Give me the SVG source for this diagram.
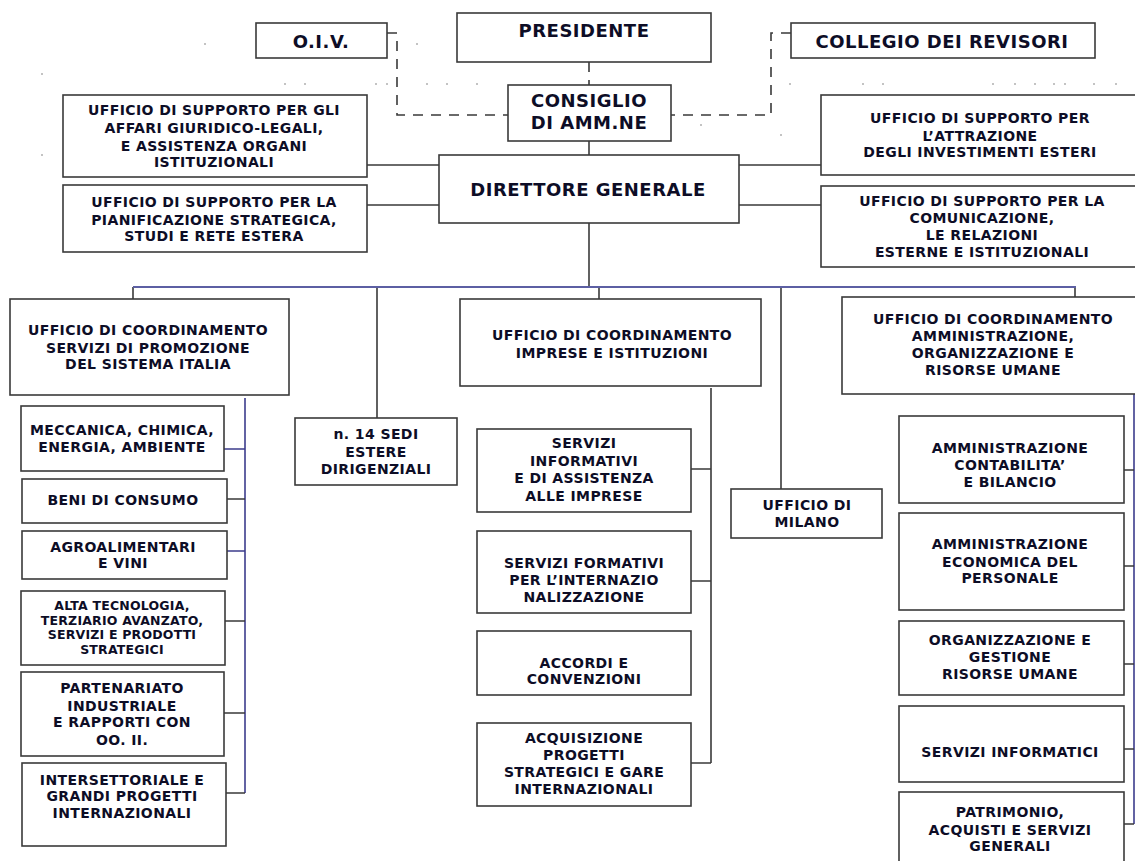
<svg xmlns="http://www.w3.org/2000/svg" width="1135" height="861" viewBox="0 0 1135 861">
<style>
.box{fill:#ffffff;stroke:#3a3a3a;stroke-width:1.6}
.t{font-family:"DejaVu Sans","Liberation Sans",sans-serif;font-weight:bold;font-size:14px;letter-spacing:0.4px;fill:#0d0d26;text-anchor:middle}
.big{font-size:18px;letter-spacing:0.5px}
.sm{font-size:12.5px;letter-spacing:0.2px}
.ln{fill:none;stroke:#3a3a3a;stroke-width:1.6}
.dash{fill:none;stroke:#3a3a3a;stroke-width:1.6;stroke-dasharray:10 8}
.bus{fill:none;stroke:#5c5fa3;stroke-width:2}
.navy{fill:none;stroke:#3c3c8c;stroke-width:1.6}
.dot{fill:#777}
</style>
<rect width="1135" height="861" fill="#ffffff"/>
<g id="specks">
<circle class="dot" cx="205" cy="44" r="0.8"/><circle class="dot" cx="42" cy="74" r="0.8"/><circle class="dot" cx="42" cy="155" r="0.8"/>
<circle class="dot" cx="417" cy="44" r="0.8"/>
<circle class="dot" cx="285" cy="84" r="0.8"/><circle class="dot" cx="305" cy="84" r="0.8"/><circle class="dot" cx="376" cy="84" r="0.8"/><circle class="dot" cx="387" cy="84" r="0.8"/><circle class="dot" cx="427" cy="84" r="0.8"/><circle class="dot" cx="447" cy="84" r="0.8"/><circle class="dot" cx="477" cy="84" r="0.8"/>
<circle class="dot" cx="790" cy="84" r="0.8"/><circle class="dot" cx="863" cy="84" r="0.8"/><circle class="dot" cx="883" cy="84" r="0.8"/><circle class="dot" cx="993" cy="84" r="0.8"/><circle class="dot" cx="1015" cy="84" r="0.8"/><circle class="dot" cx="1035" cy="84" r="0.8"/><circle class="dot" cx="1054" cy="84" r="0.8"/><circle class="dot" cx="1065" cy="84" r="0.8"/><circle class="dot" cx="1094" cy="84" r="0.8"/><circle class="dot" cx="1116" cy="84" r="0.8"/>
<circle class="dot" cx="701" cy="125" r="0.8"/><circle class="dot" cx="781" cy="135" r="0.8"/>
</g>
<g id="connectors">
<path class="dash" d="M387,33 H397 V115 H508"/>
<path class="dash" d="M791,33 H771 V115 H671"/>
<path class="dash" d="M589,62 V85"/>
<path class="ln" d="M589,141 V155"/>
<path class="ln" d="M367,165 H439 M367,205 H439 M739,165 H821 M739,205 H821"/>
<path class="ln" d="M589,223 V287"/>
<path class="ln" d="M133,287 V299 M377,287 V418 M599,287 V299 M781,287 V489 M1075,287 V297"/>
<path class="bus" d="M133,287 H1076"/>
<path class="navy" d="M245,398 V793"/>
<path class="navy" d="M224,449 H245 M227,551 H245"/>
<path class="ln" d="M227,499 H245 M225,621 H245 M224,713 H245 M226,793 H245"/>
<path class="ln" d="M711,388 V763 M691,469 H711 M691,581 H711 M691,763 H711"/>
<path class="navy" d="M1134,394 V824"/>
<path class="ln" d="M1124,470 H1134 M1124,566 H1134 M1124,664 H1134 M1124,749 H1134 M1124,824 H1134"/>
</g>
<g id="oiv"><rect class="box" x="256" y="23" width="131" height="35"/><text class="t big" x="321" y="48">O.I.V.</text></g>
<g id="presidente"><rect class="box" x="457" y="13" width="254" height="49"/><text class="t big" x="584" y="37">PRESIDENTE</text></g>
<g id="collegio"><rect class="box" x="791" y="23" width="304" height="35"/><text class="t big" x="942" y="48">COLLEGIO DEI REVISORI</text></g>
<g id="consiglio"><rect class="box" x="508" y="85" width="163" height="56"/><text class="t big"><tspan x="589" y="107">CONSIGLIO</tspan><tspan x="589" y="129">DI AMM.NE</tspan></text></g>
<g id="direttore"><rect class="box" x="439" y="155" width="300" height="68"/><text class="t big" x="588" y="196">DIRETTORE GENERALE</text></g>
<g id="sup-legali"><rect class="box" x="63" y="95" width="304" height="82"/><text class="t"><tspan x="214" y="115">UFFICIO DI SUPPORTO PER GLI</tspan><tspan x="214" y="133">AFFARI GIURIDICO-LEGALI,</tspan><tspan x="214" y="151">E ASSISTENZA ORGANI</tspan><tspan x="214" y="167">ISTITUZIONALI</tspan></text></g>
<g id="sup-pianificazione"><rect class="box" x="63" y="185" width="304" height="67"/><text class="t"><tspan x="214" y="207">UFFICIO DI SUPPORTO PER LA</tspan><tspan x="214" y="225">PIANIFICAZIONE STRATEGICA,</tspan><tspan x="214" y="241">STUDI E RETE ESTERA</tspan></text></g>
<g id="sup-attrazione"><rect class="box" x="821" y="95" width="330" height="80"/><text class="t"><tspan x="980" y="123">UFFICIO DI SUPPORTO PER</tspan><tspan x="980" y="141">L’ATTRAZIONE</tspan><tspan x="980" y="157">DEGLI INVESTIMENTI ESTERI</tspan></text></g>
<g id="sup-comunicazione"><rect class="box" x="821" y="186" width="330" height="81"/><text class="t"><tspan x="982" y="206">UFFICIO DI SUPPORTO PER LA</tspan><tspan x="982" y="223">COMUNICAZIONE,</tspan><tspan x="982" y="240">LE RELAZIONI</tspan><tspan x="982" y="257">ESTERNE E ISTITUZIONALI</tspan></text></g>
<g id="coord-promozione"><rect class="box" x="10" y="299" width="279" height="96"/><text class="t"><tspan x="148" y="335">UFFICIO DI COORDINAMENTO</tspan><tspan x="148" y="353">SERVIZI DI PROMOZIONE</tspan><tspan x="148" y="369">DEL SISTEMA ITALIA</tspan></text></g>
<g id="sedi-estere"><rect class="box" x="295" y="418" width="162" height="67"/><text class="t"><tspan x="376" y="439">n. 14 SEDI</tspan><tspan x="376" y="457">ESTERE</tspan><tspan x="376" y="474">DIRIGENZIALI</tspan></text></g>
<g id="coord-imprese"><rect class="box" x="460" y="299" width="301" height="87"/><text class="t"><tspan x="612" y="340">UFFICIO DI COORDINAMENTO</tspan><tspan x="612" y="358">IMPRESE E ISTITUZIONI</tspan></text></g>
<g id="milano"><rect class="box" x="731" y="489" width="151" height="49"/><text class="t"><tspan x="807" y="510">UFFICIO DI</tspan><tspan x="807" y="527">MILANO</tspan></text></g>
<g id="coord-amministrazione"><rect class="box" x="842" y="297" width="310" height="97"/><text class="t"><tspan x="993" y="324">UFFICIO DI COORDINAMENTO</tspan><tspan x="993" y="341">AMMINISTRAZIONE,</tspan><tspan x="993" y="358">ORGANIZZAZIONE E</tspan><tspan x="993" y="375">RISORSE UMANE</tspan></text></g>
<g id="meccanica"><rect class="box" x="21" y="406" width="203" height="65"/><text class="t"><tspan x="122" y="435">MECCANICA, CHIMICA,</tspan><tspan x="122" y="452">ENERGIA, AMBIENTE</tspan></text></g>
<g id="beni-consumo"><rect class="box" x="22" y="479" width="205" height="44"/><text class="t" x="123" y="505">BENI DI CONSUMO</text></g>
<g id="agroalimentari"><rect class="box" x="22" y="531" width="205" height="48"/><text class="t"><tspan x="123" y="552">AGROALIMENTARI</tspan><tspan x="123" y="568">E VINI</tspan></text></g>
<g id="alta-tecnologia"><rect class="box" x="21" y="591" width="204" height="74"/><text class="t sm"><tspan x="122" y="610">ALTA TECNOLOGIA,</tspan><tspan x="122" y="625">TERZIARIO AVANZATO,</tspan><tspan x="122" y="639">SERVIZI E PRODOTTI</tspan><tspan x="122" y="654">STRATEGICI</tspan></text></g>
<g id="partenariato"><rect class="box" x="21" y="672" width="203" height="84"/><text class="t"><tspan x="122" y="693">PARTENARIATO</tspan><tspan x="122" y="711">INDUSTRIALE</tspan><tspan x="122" y="727">E RAPPORTI CON</tspan><tspan x="122" y="745">OO. II.</tspan></text></g>
<g id="intersettoriale"><rect class="box" x="22" y="763" width="204" height="83"/><text class="t"><tspan x="122" y="785">INTERSETTORIALE E</tspan><tspan x="122" y="801">GRANDI PROGETTI</tspan><tspan x="122" y="818">INTERNAZIONALI</tspan></text></g>
<g id="servizi-informativi"><rect class="box" x="477" y="429" width="214" height="83"/><text class="t"><tspan x="584" y="448">SERVIZI</tspan><tspan x="584" y="466">INFORMATIVI</tspan><tspan x="584" y="483">E DI ASSISTENZA</tspan><tspan x="584" y="501">ALLE IMPRESE</tspan></text></g>
<g id="servizi-formativi"><rect class="box" x="477" y="531" width="214" height="82"/><text class="t"><tspan x="584" y="568">SERVIZI FORMATIVI</tspan><tspan x="584" y="585">PER L’INTERNAZIO</tspan><tspan x="584" y="602">NALIZZAZIONE</tspan></text></g>
<g id="accordi"><rect class="box" x="477" y="631" width="214" height="64"/><text class="t"><tspan x="584" y="668">ACCORDI E</tspan><tspan x="584" y="684">CONVENZIONI</tspan></text></g>
<g id="acquisizione"><rect class="box" x="477" y="723" width="214" height="83"/><text class="t"><tspan x="584" y="743">ACQUISIZIONE</tspan><tspan x="584" y="760">PROGETTI</tspan><tspan x="584" y="777">STRATEGICI E GARE</tspan><tspan x="584" y="794">INTERNAZIONALI</tspan></text></g>
<g id="amm-contabilita"><rect class="box" x="899" y="416" width="225" height="87"/><text class="t"><tspan x="1010" y="453">AMMINISTRAZIONE</tspan><tspan x="1010" y="470">CONTABILITA’</tspan><tspan x="1010" y="487">E BILANCIO</tspan></text></g>
<g id="amm-economica"><rect class="box" x="899" y="513" width="225" height="97"/><text class="t"><tspan x="1010" y="549">AMMINISTRAZIONE</tspan><tspan x="1010" y="567">ECONOMICA DEL</tspan><tspan x="1010" y="583">PERSONALE</tspan></text></g>
<g id="organizzazione"><rect class="box" x="899" y="621" width="225" height="74"/><text class="t"><tspan x="1010" y="645">ORGANIZZAZIONE E</tspan><tspan x="1010" y="662">GESTIONE</tspan><tspan x="1010" y="679">RISORSE UMANE</tspan></text></g>
<g id="servizi-informatici"><rect class="box" x="899" y="706" width="225" height="76"/><text class="t" x="1010" y="757">SERVIZI INFORMATICI</text></g>
<g id="patrimonio"><rect class="box" x="899" y="792" width="225" height="80"/><text class="t"><tspan x="1010" y="817">PATRIMONIO,</tspan><tspan x="1010" y="835">ACQUISTI E SERVIZI</tspan><tspan x="1010" y="851">GENERALI</tspan></text></g>
</svg>
